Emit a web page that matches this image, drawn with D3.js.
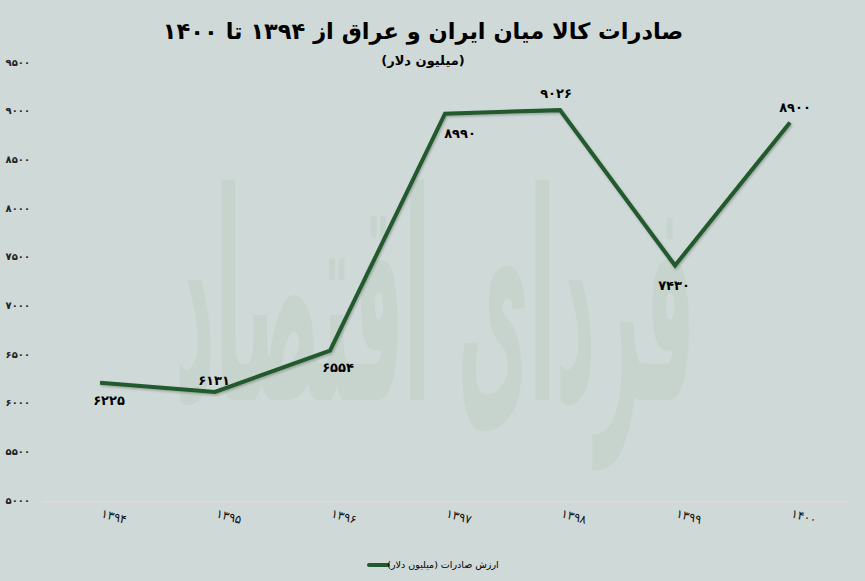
<!DOCTYPE html>
<html>
<head>
<meta charset="utf-8">
<script src="https://cdn.jsdelivr.net/npm/d3@7"></script>
<style>
  html, body { margin: 0; padding: 0; background: #cfd9d7; }
  svg { display: block; }
  text { font-family: "DejaVu Sans", "Noto Sans", sans-serif; }
</style>
</head>
<body>
<svg id="chart" width="865" height="581"></svg>
<script>
// ---- data ----
const title = "صادرات کالا میان ایران و عراق از ۱۳۹۴ تا ۱۴۰۰";
const subtitle = "(میلیون دلار)";
const seriesName = "ارزش صادرات (میلیون دلار)";
const years = [1394, 1395, 1396, 1397, 1398, 1399, 1400];
const exportsValue = [6225, 6131, 6554, 8990, 9026, 7430, 8900];
const yTicks = [5000, 5500, 6000, 6500, 7000, 7500, 8000, 8500, 9000, 9500];
const watermark = "فردای اقتصاد";

// ---- helpers ----
const faDigits = "۰۱۲۳۴۵۶۷۸۹";
const toFa = v => String(v).replace(/[0-9]/g, d => faDigits[+d]);

const W = 865, H = 581;
const svg = d3.select("#chart");

svg.append("rect").attr("width", W).attr("height", H).attr("fill", "#cfd9d7");

const defs = svg.append("defs");
const f = defs.append("filter").attr("id", "shadow")
  .attr("x", "-5%").attr("y", "-5%").attr("width", "110%").attr("height", "110%");
f.append("feDropShadow").attr("dx", 1).attr("dy", 1.5).attr("stdDeviation", 1)
  .attr("flood-color", "#000").attr("flood-opacity", 0.25);

// watermark: fit natural width to ~520px, then stretch vertically
const wm = svg.append("text")
  .attr("x", 0).attr("y", 0)
  .attr("text-anchor", "middle")
  .attr("direction", "rtl")
  .attr("font-size", 100)
  .attr("font-weight", "bold")
  .attr("fill", "#c6d4cd")
  .text(watermark);
const natW = wm.node().getComputedTextLength() || 500;
const wmSize = 100 * 520 / natW;
const wmStretch = Math.max(1, 290 / wmSize);
wm.attr("font-size", wmSize)
  .attr("transform", `translate(435,400) scale(1,${wmStretch})`);

// scales
const x = d3.scalePoint().domain(years).range([42.5, 847.5]).padding(0.5);
const y = d3.scaleLinear().domain([5000, 9500]).range([502, 64]);

// title
svg.append("text")
  .attr("x", 423).attr("y", 39)
  .attr("text-anchor", "middle").attr("direction", "rtl")
  .attr("font-size", 22.5).attr("font-weight", "bold").attr("fill", "#000")
  .text(title);
svg.append("text")
  .attr("x", 423).attr("y", 65)
  .attr("text-anchor", "middle").attr("direction", "rtl")
  .attr("font-size", 13).attr("font-weight", "bold").attr("fill", "#000")
  .text(subtitle);

// y axis
const yAxis = d3.axisLeft(y).tickValues(yTicks).tickSize(0).tickPadding(0).tickFormat(toFa);
const gy = svg.append("g").attr("transform", "translate(30,-2)").call(yAxis);
gy.select(".domain").remove();
gy.selectAll("text").attr("font-size", 10).attr("font-weight", "bold").attr("fill", "#222")
  .attr("font-family", "DejaVu Sans");

// baseline
svg.append("line")
  .attr("x1", 42).attr("x2", 848)
  .attr("y1", y(5000)).attr("y2", y(5000))
  .attr("stroke", "#e6dcdc").attr("stroke-width", 1);

// x axis
const xAxis = d3.axisBottom(x).tickSize(0).tickFormat(toFa);
const gx = svg.append("g").attr("transform", `translate(0,${y(5000)})`).call(xAxis);
gx.select(".domain").remove();
gx.selectAll("text")
  .attr("font-size", 12).attr("fill", "#111").attr("font-family", "DejaVu Sans")
  .attr("text-anchor", "start")
  .attr("dy", 0).attr("y", 0)
  .attr("transform", "translate(0,15) rotate(16)");

// line
const pts = years.map((yr, i) => ({ yr, v: exportsValue[i] }));
const line = d3.line().x(d => x(d.yr)).y(d => y(d.v));
svg.append("path")
  .datum(pts)
  .attr("d", line)
  .attr("fill", "none")
  .attr("stroke", "#225a2f")
  .attr("stroke-width", 4)
  .attr("stroke-linejoin", "miter")
  .attr("filter", "url(#shadow)");

// data labels (placement offsets relative to each point)
const labelOffset = [[9, 18], [-1, -11], [8, 17], [15, 20], [-4, -17], [-1, 20], [5, -15]];
svg.append("g").selectAll("text")
  .data(pts)
  .join("text")
  .attr("x", (d, i) => x(d.yr) + labelOffset[i][0])
  .attr("y", (d, i) => y(d.v) + labelOffset[i][1])
  .attr("dy", "0.35em")
  .attr("text-anchor", "middle")
  .attr("font-size", 13).attr("font-weight", "bold").attr("fill", "#000")
  .text(d => toFa(d.v));

// legend
svg.append("line")
  .attr("x1", 369).attr("x2", 388).attr("y1", 565).attr("y2", 565)
  .attr("stroke", "#225a2f").attr("stroke-width", 4).attr("stroke-linecap", "round");
svg.append("text")
  .attr("x", 443).attr("y", 565).attr("dy", "0.35em")
  .attr("text-anchor", "middle").attr("direction", "rtl")
  .attr("font-size", 9.5).attr("fill", "#000")
  .text(seriesName);
</script>
</body>
</html>
